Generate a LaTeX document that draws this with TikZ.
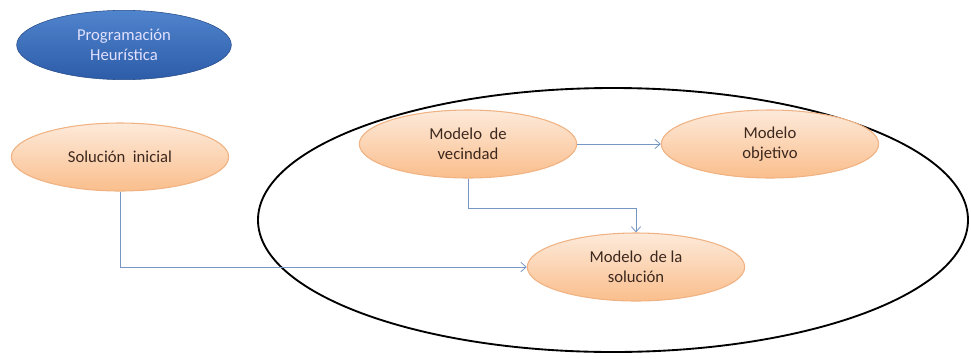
\documentclass[tikz,border=0pt]{standalone}
\usepackage{fontspec}
\setmainfont{Carlito}
\usetikzlibrary{arrows.meta, positioning, shapes.geometric}

\definecolor{linkblue}{RGB}{120,150,195}
\definecolor{peachtop}{RGB}{253,234,218}
\definecolor{peachbot}{RGB}{250,190,140}
\definecolor{peachedge}{RGB}{240,178,130}
\definecolor{headtop}{RGB}{80,132,205}
\definecolor{headbot}{RGB}{45,92,168}
\definecolor{inktext}{RGB}{60,40,30}

\begin{document}
\begin{tikzpicture}[x=0.75pt, y=-0.75pt,
  modelo/.style={ellipse, draw=peachedge, thick, top color=peachtop,
                 bottom color=peachbot, minimum width=163pt,
                 minimum height=51pt, inner sep=1pt, align=center,
                 font=\fontsize{12.5}{15}\selectfont, text=inktext},
  cabecera/.style={ellipse, draw=headbot!80!black, top color=headtop,
                   bottom color=headbot, minimum width=161pt,
                   minimum height=52pt, inner sep=1pt, align=center,
                   font=\fontsize{12.5}{15}\selectfont, text=white!88!blue},
  arrow/.style={-{Straight Barb[length=4pt, width=7pt]}, draw=linkblue,
                line width=0.6pt},
]
\useasboundingbox (0,0) rectangle (971,358);

% ---- entorno ----
\draw[line width=1.4pt] (613,220) ellipse [x radius=355, y radius=132];

\node[cabecera] (prog) at (124,45) {Programación\\Heurística};

\node[modelo] (inicial)  at (120,157) {Solución\ \ inicial};
\node[modelo] (vecindad) at (468,144) {Modelo\ \ de\\vecindad};
\node[modelo] (objetivo) at (770,144) {Modelo\\objetivo};
\node[modelo] (solucion) at (636,267) {Modelo\ \ de la\\solución};

% ---- relaciones ----
\draw[arrow] (vecindad.east) -- (objetivo.west);
\draw[arrow] (vecindad.south) |- ++(0,30) -| (solucion.north);
\draw[arrow] (inicial.south) |- (solucion.west);

\end{tikzpicture}
\end{document}
